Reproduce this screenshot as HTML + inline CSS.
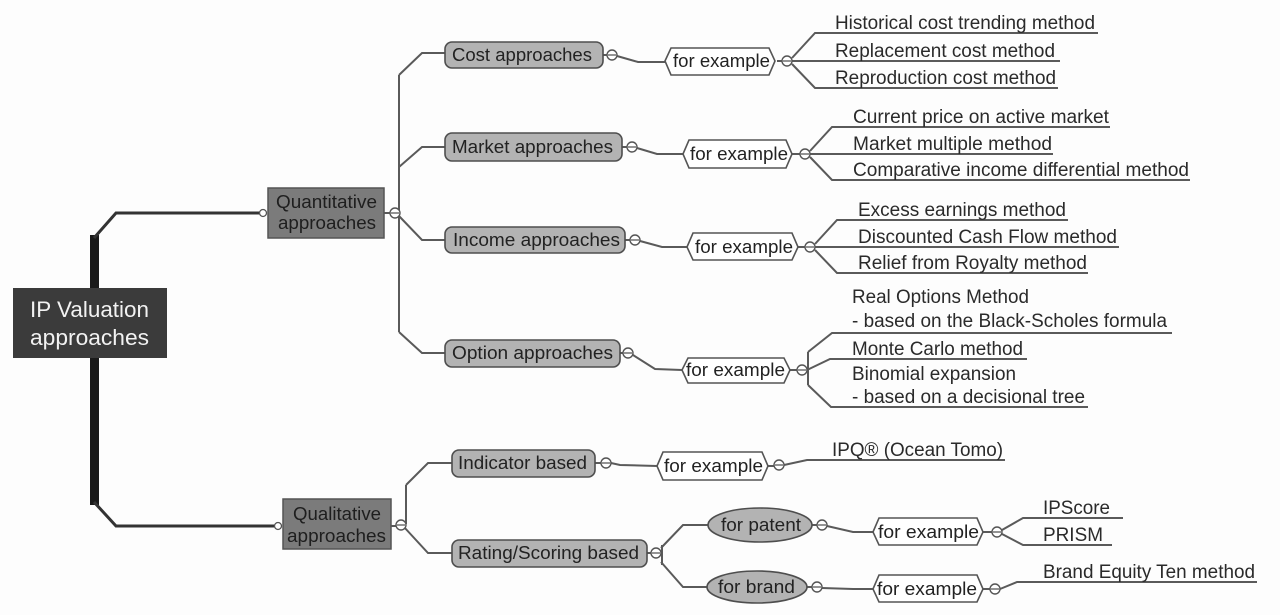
<!DOCTYPE html>
<html><head><meta charset="utf-8"><style>
html,body{margin:0;padding:0;background:#fdfdfd;}
svg{display:block;}
text{font-family:"Liberation Sans",Arial,sans-serif;}
</style></head><body>
<svg width="1280" height="615" viewBox="0 0 1280 615" xmlns="http://www.w3.org/2000/svg">
<rect x="0" y="0" width="1280" height="615" fill="#fdfdfd"/>

<!-- trunk -->
<rect x="90" y="235" width="9" height="270" fill="#1a1a1a"/>
<g fill="none" stroke="#333" stroke-width="3">
<path d="M94,238 L116,213 L263,213"/>
<path d="M94,502 L116,526 L278,526"/>
</g>

<!-- root -->
<rect x="13" y="288" width="154" height="70" fill="#3b3b3b"/>
<g fill="#f2f2f2" font-size="22">
<text x="30" y="317" textLength="119" lengthAdjust="spacingAndGlyphs">IP Valuation</text>
<text x="30" y="345" textLength="119" lengthAdjust="spacingAndGlyphs">approaches</text>
</g>

<!-- level1 boxes -->
<rect x="268" y="188" width="116" height="50" fill="#7b7b7b" stroke="#555" stroke-width="1.5"/>
<rect x="283" y="499" width="108" height="50" fill="#7b7b7b" stroke="#555" stroke-width="1.5"/>
<g fill="#1e1e1e" font-size="18">
<text x="276" y="208" textLength="101" lengthAdjust="spacingAndGlyphs">Quantitative</text>
<text x="278" y="229" textLength="98" lengthAdjust="spacingAndGlyphs">approaches</text>
<text x="293" y="520" textLength="88" lengthAdjust="spacingAndGlyphs">Qualitative</text>
<text x="287" y="542" textLength="99" lengthAdjust="spacingAndGlyphs">approaches</text>
</g>

<!-- connectors -->
<g fill="none" stroke="#5a5a5a" stroke-width="2">
<path d="M384,213 L390,213"/>
<path d="M391,526 L396,526"/>
<path d="M399,75 L399,332"/>
<path d="M399,75 L422,53 L445,53"/>
<path d="M399,167 L422,147 L445,147"/>
<path d="M399,216 L422,240 L445,240"/>
<path d="M399,332 L422,353 L445,353"/>
<path d="M406,485 L406,524"/>
<path d="M406,485 L428,463 L452,463"/>
<path d="M404,527 L428,553 L452,553"/>
<!-- level2 -> FE -->
<path d="M603,55 L607,55"/>
<path d="M617,56 L638,62 L665,62"/>
<path d="M622,147 L627,147"/>
<path d="M637,148 L657,154 L683,154"/>
<path d="M625,240 L630,240"/>
<path d="M640,241 L662,247 L687,247"/>
<path d="M620,353 L623,353"/>
<path d="M633,355 L655,369 L682,370"/>
<path d="M595,463 L601,463"/>
<path d="M611,463 L620,465 L657,466"/>
<path d="M647,553 L651,553"/>
<path d="M662,545 L662,565"/>
<path d="M661,548 L683,525 L708,525"/>
<path d="M661,562 L683,587 L708,587"/>
<path d="M812,525 L817,525"/>
<path d="M827,526 L853,532 L873,532"/>
<path d="M807,587 L812,587"/>
<path d="M822,588 L853,589 L873,589"/>
<!-- FE -> leaves -->
<path d="M777,61 L782,61"/>
<path d="M792,58 L815,33 L1098,33"/>
<path d="M792,61 L1060,61"/>
<path d="M792,64 L815,88 L1058,88"/>
<path d="M792,154 L800,154"/>
<path d="M810,151 L832,127 L1110,127"/>
<path d="M810,154 L1053,154"/>
<path d="M810,157 L832,180 L1190,180"/>
<path d="M798,247 L805,247"/>
<path d="M815,244 L837,220 L1068,220"/>
<path d="M815,247 L1119,247"/>
<path d="M815,250 L837,273 L1088,273"/>
<path d="M790,370 L797,370"/>
<path d="M808,352 L808,385"/>
<path d="M808,352 L832,333 L1172,333"/>
<path d="M807,370 L830,359 L1027,359"/>
<path d="M808,385 L831,407 L1088,407"/>
<path d="M768,466 L774,466"/>
<path d="M784,465 L807,460 L1005,460"/>
<path d="M983,532 L992,532"/>
<path d="M1002,530 L1023,518 L1123,518"/>
<path d="M1002,534 L1023,545 L1112,545"/>
<path d="M983,589 L990,589"/>
<path d="M1000,589 L1017,582 L1257,582"/>
</g>

<!-- level2 rounded boxes -->
<g fill="#b3b3b3" stroke="#4e4e4e" stroke-width="1.6">
<rect x="445" y="42" width="158" height="26" rx="7"/>
<rect x="445" y="133" width="177" height="28" rx="7"/>
<rect x="445" y="227" width="180" height="26" rx="7"/>
<rect x="445" y="340" width="175" height="27" rx="7"/>
<rect x="452" y="450" width="143" height="27" rx="7"/>
<rect x="452" y="540" width="195" height="27" rx="7"/>
<ellipse cx="760" cy="525" rx="52" ry="17"/>
<ellipse cx="757" cy="587" rx="50" ry="16"/>
</g>
<g fill="#222" font-size="18">
<text x="452" y="61" textLength="140" lengthAdjust="spacingAndGlyphs">Cost approaches</text>
<text x="452" y="153" textLength="161" lengthAdjust="spacingAndGlyphs">Market approaches</text>
<text x="453" y="246" textLength="167" lengthAdjust="spacingAndGlyphs">Income approaches</text>
<text x="452" y="359" textLength="161" lengthAdjust="spacingAndGlyphs">Option approaches</text>
<text x="458" y="469" textLength="129" lengthAdjust="spacingAndGlyphs">Indicator based</text>
<text x="458" y="559" textLength="181" lengthAdjust="spacingAndGlyphs">Rating/Scoring based</text>
<text x="721" y="531" textLength="80" lengthAdjust="spacingAndGlyphs">for patent</text>
<text x="718" y="593" textLength="77" lengthAdjust="spacingAndGlyphs">for brand</text>
</g>

<!-- for example hexagons -->
<g fill="#fff" stroke="#555" stroke-width="1.6">
<polygon points="665,61 671,48 769,48 775,61 769,75 671,75"/>
<polygon points="683,154 689,140 786,140 792,154 786,168 689,168"/>
<polygon points="687,247 693,233 792,233 798,247 792,260 693,260"/>
<polygon points="682,370 688,358 784,358 790,370 784,383 688,383"/>
<polygon points="657,466 663,452 762,452 768,466 762,480 663,480"/>
<polygon points="873,532 879,518 977,518 983,532 977,545 879,545"/>
<polygon points="873,589 879,575 977,575 983,589 977,602 879,602"/>
</g>
<g fill="#222" font-size="18">
<text x="673" y="67" textLength="97" lengthAdjust="spacingAndGlyphs">for example</text>
<text x="690" y="160" textLength="98" lengthAdjust="spacingAndGlyphs">for example</text>
<text x="695" y="253" textLength="98" lengthAdjust="spacingAndGlyphs">for example</text>
<text x="686" y="376" textLength="99" lengthAdjust="spacingAndGlyphs">for example</text>
<text x="664" y="472" textLength="99" lengthAdjust="spacingAndGlyphs">for example</text>
<text x="878" y="538" textLength="101" lengthAdjust="spacingAndGlyphs">for example</text>
<text x="877" y="595" textLength="100" lengthAdjust="spacingAndGlyphs">for example</text>
</g>

<!-- small attach circles -->
<g fill="#fff" stroke="#555" stroke-width="1.3">
<circle cx="263" cy="213" r="3.5"/>
<circle cx="278" cy="526" r="3.5"/>
</g>
<!-- collapse circles -->
<g fill="#fff" stroke="#555" stroke-width="1.4">
<circle cx="395" cy="213" r="5"/>
<circle cx="401" cy="525" r="5"/>
<circle cx="612" cy="55" r="5"/>
<circle cx="632" cy="147" r="5"/>
<circle cx="635" cy="240" r="5"/>
<circle cx="628" cy="353" r="5"/>
<circle cx="606" cy="463" r="5"/>
<circle cx="656" cy="553" r="5"/>
<circle cx="822" cy="525" r="5"/>
<circle cx="817" cy="587" r="5"/>
<circle cx="787" cy="61" r="5"/>
<circle cx="805" cy="154" r="5"/>
<circle cx="810" cy="247" r="5"/>
<circle cx="802" cy="370" r="5"/>
<circle cx="779" cy="465" r="5"/>
<circle cx="997" cy="532" r="5"/>
<circle cx="995" cy="589" r="5"/>
</g>
<g stroke="#555" stroke-width="1.3">
<path d="M391,213 H399 M397,525 H405 M608,55 H616 M628,147 H636 M631,240 H639 M624,353 H632 M602,463 H610 M652,553 H660 M818,525 H826 M813,587 H821 M783,61 H791 M801,154 H809 M806,247 H814 M798,370 H806 M775,465 H783 M993,532 H1001 M991,589 H999"/>
</g>

<!-- leaf texts -->
<g fill="#2a2a2a" font-size="19">
<text x="835" y="29" textLength="260" lengthAdjust="spacingAndGlyphs">Historical cost trending method</text>
<text x="835" y="57" textLength="220" lengthAdjust="spacingAndGlyphs">Replacement cost method</text>
<text x="835" y="84" textLength="221" lengthAdjust="spacingAndGlyphs">Reproduction cost method</text>
<text x="853" y="123" textLength="256" lengthAdjust="spacingAndGlyphs">Current price on active market</text>
<text x="853" y="150" textLength="199" lengthAdjust="spacingAndGlyphs">Market multiple method</text>
<text x="853" y="176" textLength="336" lengthAdjust="spacingAndGlyphs">Comparative income differential method</text>
<text x="858" y="216" textLength="208" lengthAdjust="spacingAndGlyphs">Excess earnings method</text>
<text x="858" y="243" textLength="259" lengthAdjust="spacingAndGlyphs">Discounted Cash Flow method</text>
<text x="858" y="269" textLength="229" lengthAdjust="spacingAndGlyphs">Relief from Royalty method</text>
<text x="852" y="303" textLength="177" lengthAdjust="spacingAndGlyphs">Real Options Method</text>
<text x="852" y="327" textLength="315" lengthAdjust="spacingAndGlyphs">- based on the Black-Scholes formula</text>
<text x="852" y="355" textLength="171" lengthAdjust="spacingAndGlyphs">Monte Carlo method</text>
<text x="852" y="380" textLength="164" lengthAdjust="spacingAndGlyphs">Binomial expansion</text>
<text x="852" y="403" textLength="233" lengthAdjust="spacingAndGlyphs">- based on a decisional tree</text>
<text x="832" y="456" textLength="171" lengthAdjust="spacingAndGlyphs">IPQ® (Ocean Tomo)</text>
<text x="1043" y="514" textLength="67" lengthAdjust="spacingAndGlyphs">IPScore</text>
<text x="1043" y="541" textLength="60" lengthAdjust="spacingAndGlyphs">PRISM</text>
<text x="1043" y="578" textLength="212" lengthAdjust="spacingAndGlyphs">Brand Equity Ten method</text>
</g>
</svg>
</body></html>
